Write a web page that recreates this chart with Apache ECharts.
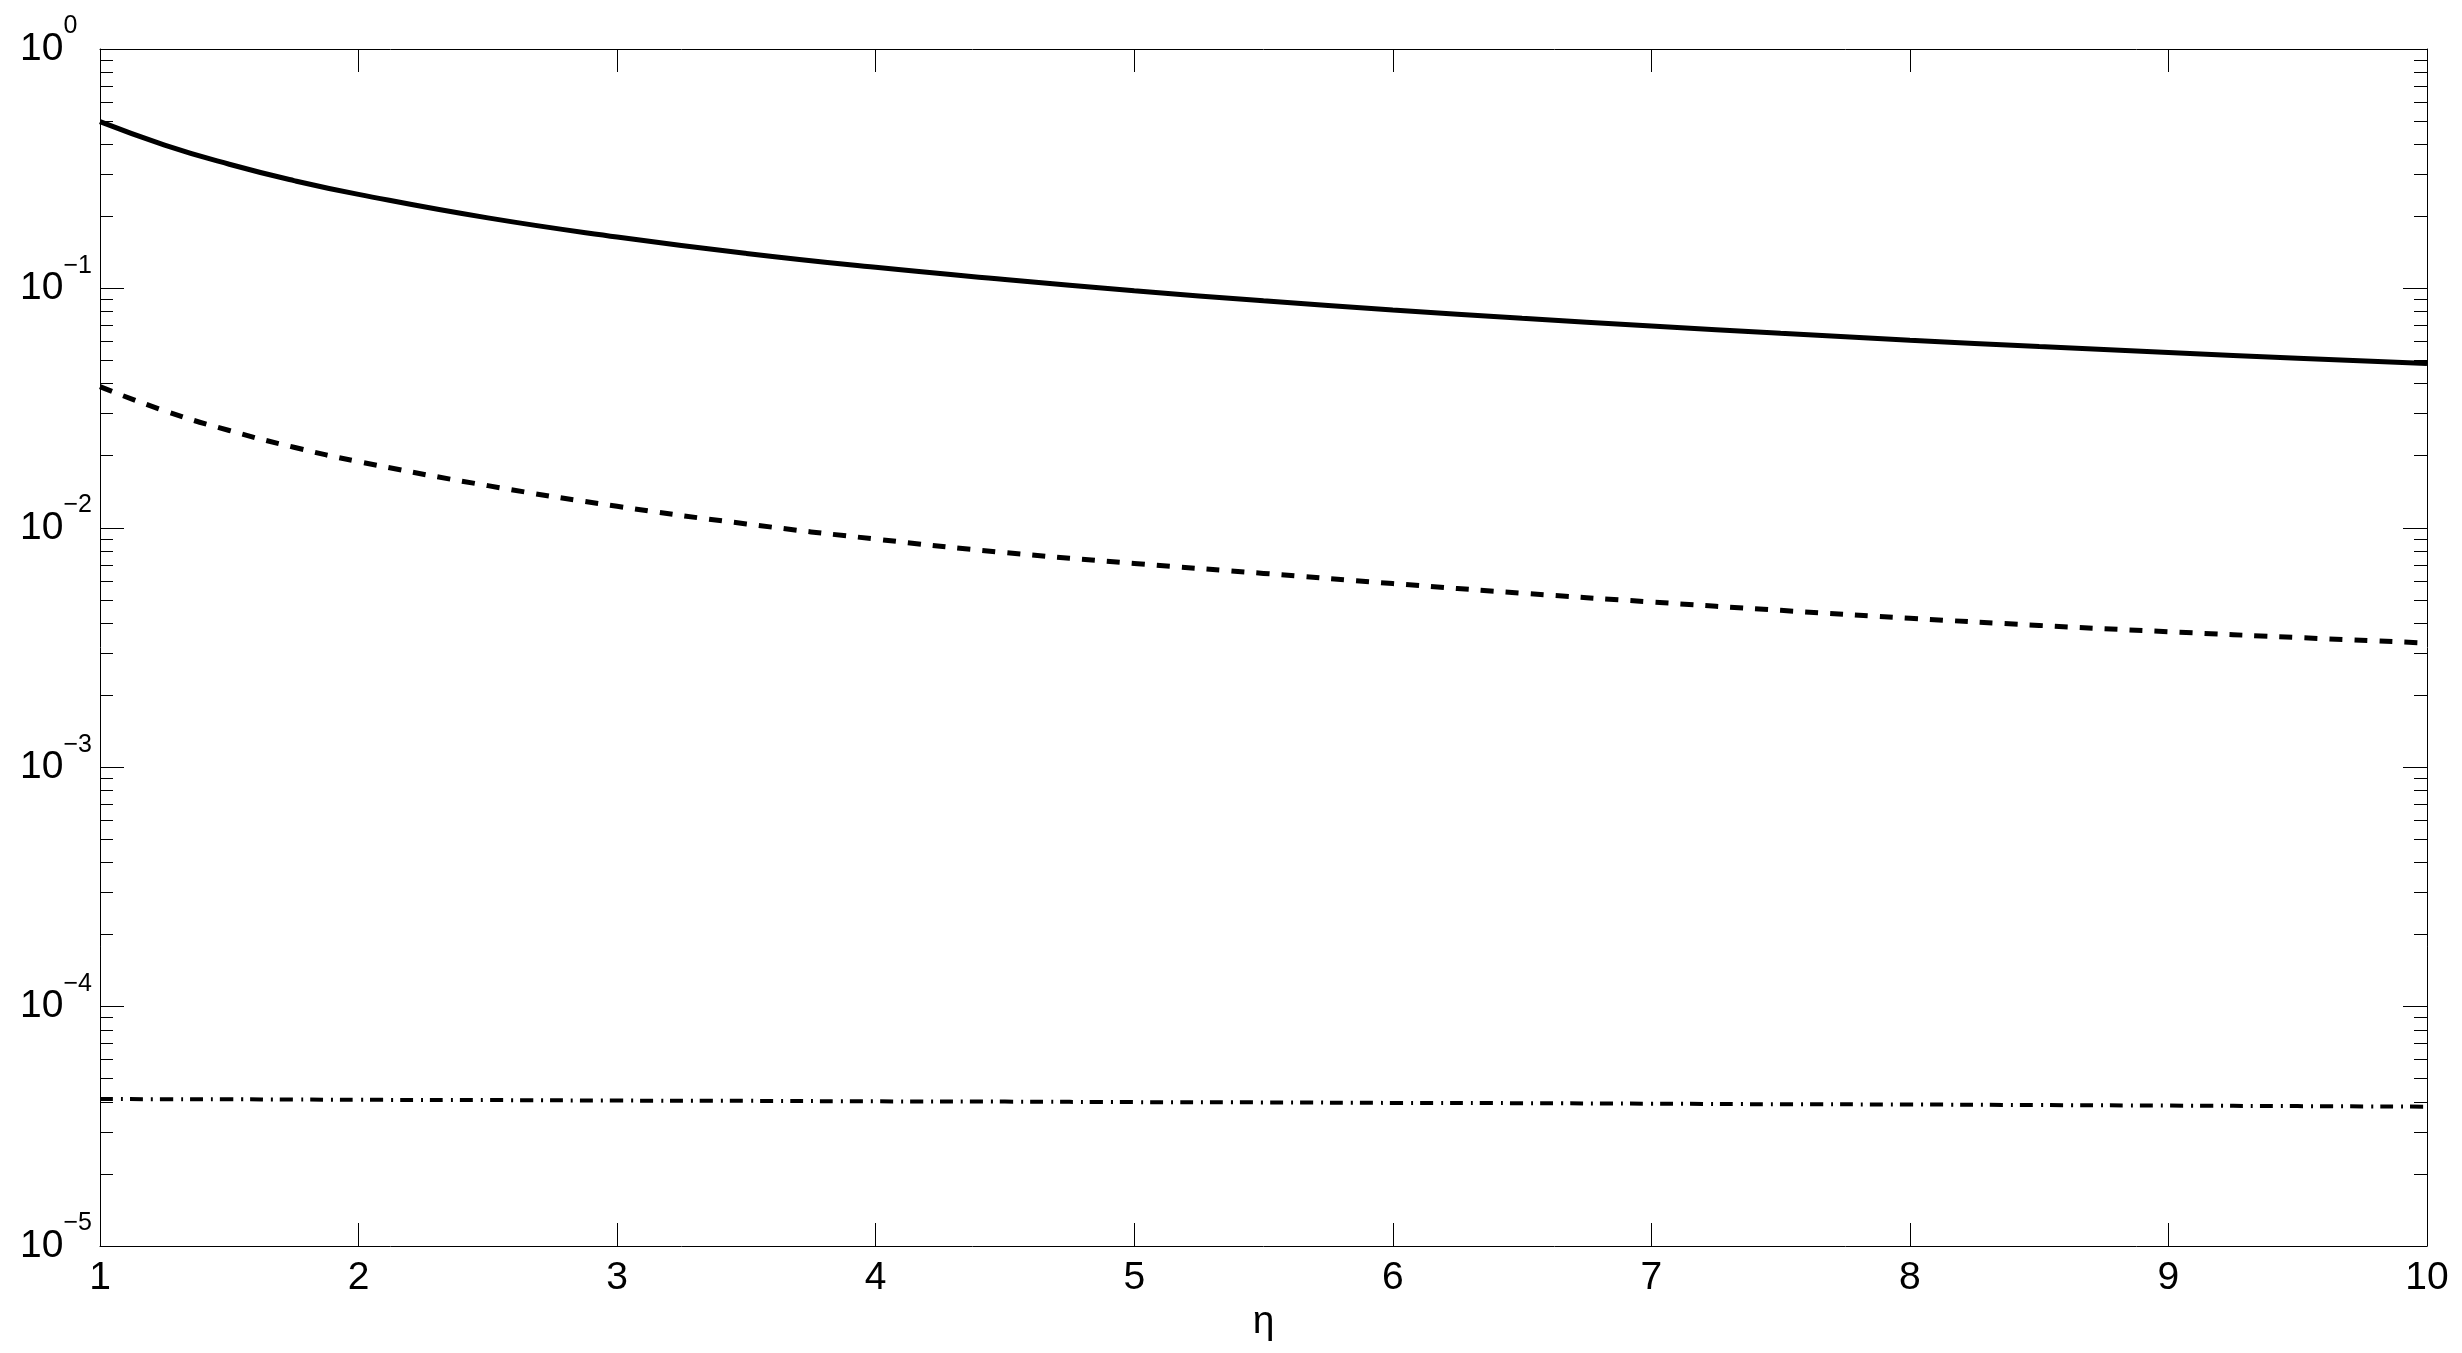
<!DOCTYPE html>
<html>
<head>
<meta charset="utf-8">
<title>eta plot</title>
<script src="https://cdn.jsdelivr.net/npm/echarts@6/dist/echarts.min.js"></script>
<style>
  html, body { margin: 0; padding: 0; background: #fff; }
  #main { width: 2462px; height: 1353px; }
</style>
</head>
<body>
<div id="main"></div>
<script>
// data
var eta = [1, 1.25, 1.5, 1.75, 2, 2.5, 3, 3.5, 4, 4.5, 5, 5.5, 6, 6.5, 7, 7.5, 8, 8.5, 9, 9.5, 10];
var solidVals = [0.497, 0.397, 0.330, 0.282, 0.247, 0.197, 0.164, 0.140, 0.1225, 0.109, 0.0978, 0.0888,
  0.0813, 0.0750, 0.0696, 0.0649, 0.0608, 0.0572, 0.0540, 0.0511, 0.0486];
var dashedVals = [0.0389, 0.0308, 0.0255, 0.0217, 0.0189, 0.0150, 0.0123, 0.01038, 0.00897, 0.00788, 0.00710, 0.00645,
  0.00585, 0.00533, 0.00490, 0.00452, 0.00419, 0.00391, 0.00368, 0.00348, 0.00330];
var dashDotVals = [4.11e-5, 4.105e-5, 4.10e-5, 4.09e-5, 4.08e-5, 4.07e-5, 4.05e-5, 4.04e-5, 4.02e-5, 4.01e-5, 3.99e-5, 3.98e-5,
  3.96e-5, 3.95e-5, 3.93e-5, 3.91e-5, 3.90e-5, 3.88e-5, 3.86e-5, 3.84e-5, 3.82e-5];

// axis ticks
var xTicks = [1, 2, 3, 4, 5, 6, 7, 8, 9, 10];
var yDecades = [1e-5, 1e-4, 1e-3, 1e-2, 1e-1];
var minorSteps = [2, 3, 4, 5, 6, 7, 8, 9];

var minorVals = [];
yDecades.forEach(function (d) {
  minorSteps.forEach(function (m) { minorVals.push(d * m); });
});

function pairs(vals) {
  return eta.map(function (x, i) { return [x, vals[i]]; });
}

var FONT = "'Liberation Sans', Arial, Helvetica, sans-serif";
var black = '#000';

var chart = echarts.init(document.getElementById('main'), null, { renderer: 'canvas' });

function yAxisBase(pos, major) {
  return {
    type: 'log',
    logBase: 10,
    min: 1e-5,
    max: 1,
    splitNumber: 5,
    position: pos,
    axisLine: { show: major, onZero: false, lineStyle: { color: black, width: 1 } },
    axisTick: major
      ? { show: true, inside: true, length: 24, lineStyle: { color: black, width: 1 } }
      : { show: true, inside: true, length: 13, customValues: minorVals, lineStyle: { color: black, width: 1 } },
    axisLabel: { show: false },
    splitLine: { show: false },
    minorTick: { show: false }
  };
}

var yLeft = yAxisBase('left', true);
yLeft.axisLabel = {
  show: true,
  align: 'left',
  verticalAlign: 'middle',
  margin: 80,
  showMinLabel: true,
  showMaxLabel: true,
  color: black,
  fontFamily: FONT,
  formatter: function (v) {
    var e = Math.round(Math.log10(v));
    var s = e < 0 ? '\u2212' + (-e) : String(e);
    return '{b|10}{s|' + s + '}';
  },
  rich: {
    b: { fontSize: 39, lineHeight: 70, fontFamily: FONT, color: black },
    s: { fontSize: 25, lineHeight: 25, verticalAlign: 'top', fontFamily: FONT, color: black }
  }
};

function xAxisBase(pos, labels) {
  return {
    type: 'value',
    min: 1,
    max: 10,
    interval: 1,
    position: pos,
    axisLine: { show: true, onZero: false, lineStyle: { color: black, width: 1 } },
    axisTick: { show: true, inside: true, length: 23, lineStyle: { color: black, width: 1 } },
    axisLabel: labels ? {
      show: true, margin: 13, fontSize: 39, fontFamily: FONT, color: black,
      customValues: xTicks
    } : { show: false },
    splitLine: { show: false }
  };
}

var xBottom = xAxisBase('bottom', true);
xBottom.name = '\u03B7';
xBottom.nameLocation = 'middle';
xBottom.nameGap = 46;
xBottom.nameTextStyle = { fontSize: 39, fontFamily: FONT, color: black };

chart.setOption({
  animation: false,
  backgroundColor: '#fff',
  grid: { left: 100, top: 49, right: 35, bottom: 107, containLabel: false, outerBoundsMode: 'none' },
  xAxis: [xBottom, xAxisBase('top', false)],
  yAxis: [yLeft, yAxisBase('left', false), yAxisBase('right', true), yAxisBase('right', false)],
  series: [
    {
      type: 'line', name: 'solid', data: pairs(solidVals), smooth: true, showSymbol: false,
      lineStyle: { color: black, width: 5 }
    },
    {
      type: 'line', name: 'dashed', data: pairs(dashedVals), smooth: true, showSymbol: false,
      lineStyle: { color: black, width: 5, type: [13, 12] }
    },
    {
      type: 'line', name: 'dashdot', data: pairs(dashDotVals), smooth: true, showSymbol: false,
      lineStyle: { color: black, width: 4, type: [13, 8, 2, 7] }
    }
  ]
});
</script>
</body>
</html>
